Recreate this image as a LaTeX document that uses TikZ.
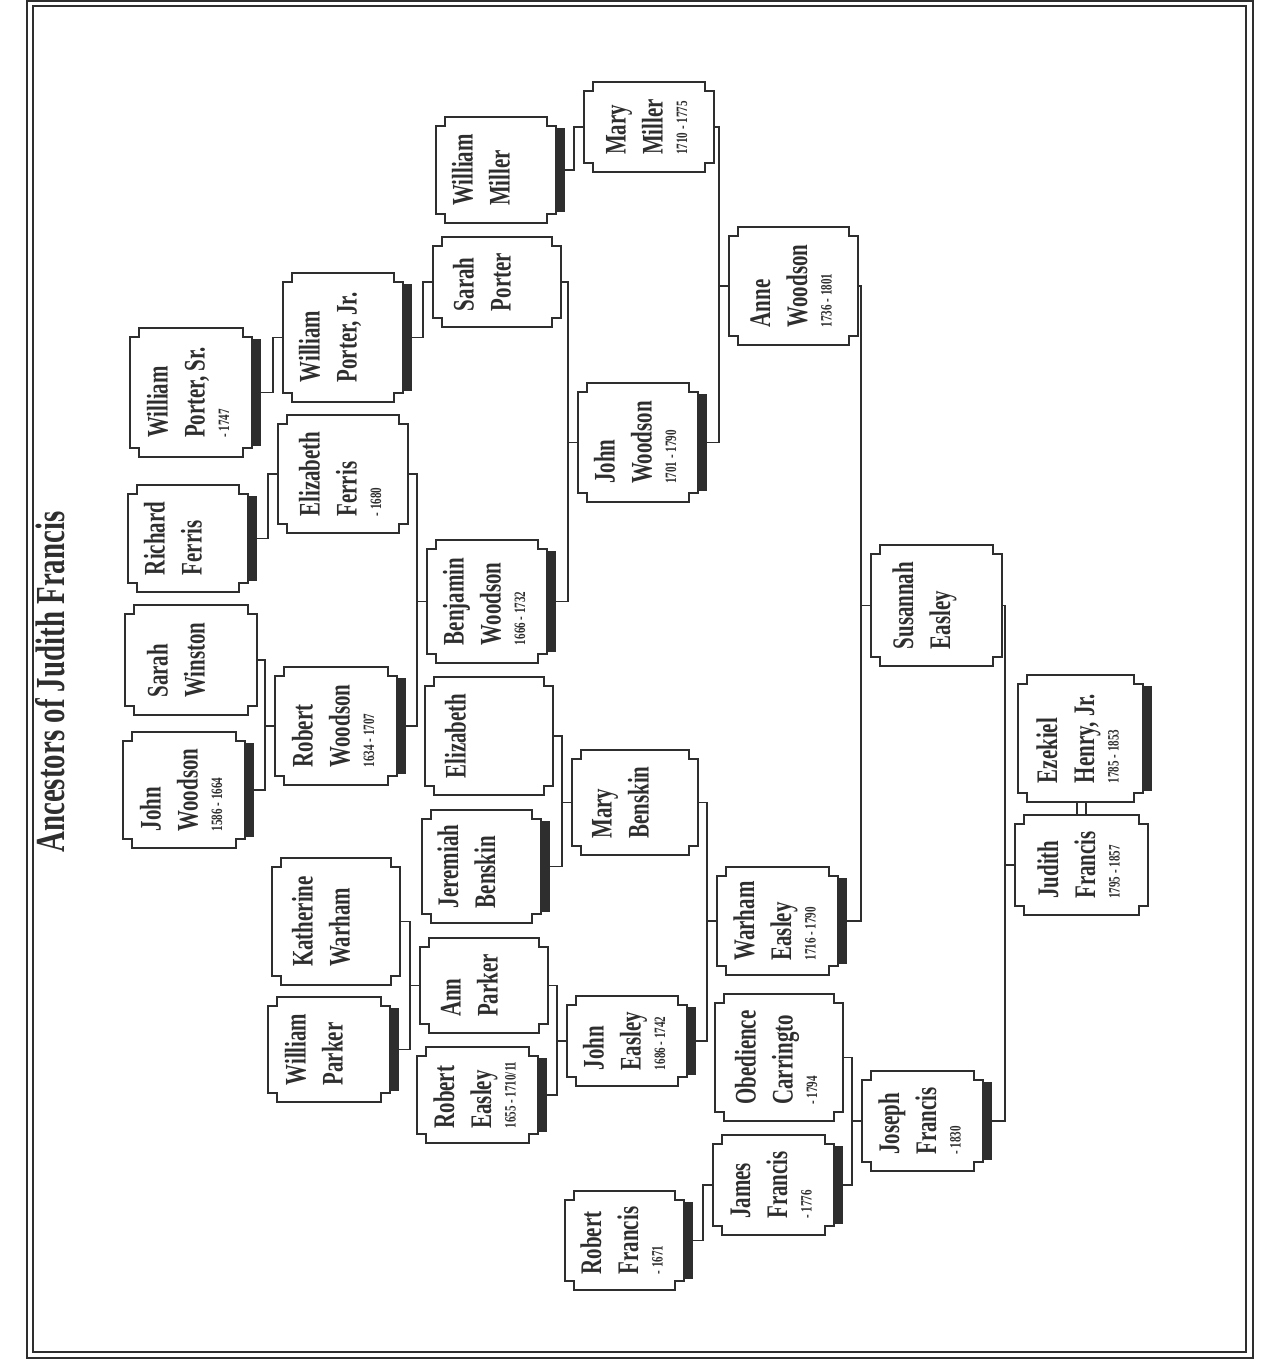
\documentclass[tikz,border=0pt]{standalone}
\usepackage{fontspec}
\usepackage{graphicx}
\setmainfont{Liberation Serif}
\newfontfamily\chartfont[FakeStretch=0.7]{Liberation Serif}
\usetikzlibrary{calc}
\definecolor{ink}{HTML}{2E2E2E}

\newcommand\namefont{\chartfont\bfseries\fontsize{17}{21}\selectfont}
\newcommand\datefont{\chartfont\fontsize{9}{10}\selectfont}
% name, surname, years -- turned to read upwards
\newcommand\who[3]{\rotatebox{90}{\namefont\begin{tabular}{@{}l@{}}#1\\#2\\[-7pt]\datefont #3\end{tabular}}}
\def\nt{0.18cm}

\begin{document}
\begin{tikzpicture}[
  x=0.02cm, y=-0.02cm,
  person/.style={inner sep=0pt, outer sep=0pt, text=ink},
  border/.style={draw=ink, line width=1.2pt},
  outline/.style={draw=ink, line width=1.2pt, line join=miter},
  shadowbar/.style={fill=ink},
  link/.style={draw=ink, line width=0.9pt},
  heading/.style={rotate=90, text=ink, font=\chartfont\bfseries\fontsize{23.5}{28}\selectfont}
]
\useasboundingbox (0,0) rectangle (1274,1362);
\draw[border] (27,1) rectangle (1253,1358);
\draw[border, line width=0.8pt] (33,6) rectangle (1246,1352);

\node[heading] (title) at (50,682) {Ancestors of Judith Francis};

% oldest generations on the left
\node[person, minimum width=2.44cm, minimum height=2.58cm] (wportersr) at (191,392.5) {\who{William}{Porter, Sr.}{- 1747}};
\node[person, minimum width=2.4cm, minimum height=2.14cm] (rferris) at (188,538.5) {\who{Richard}{Ferris}{}};
\node[person, minimum width=2.64cm, minimum height=2.2cm] (swinston) at (191,660) {\who{Sarah}{Winston}{}};
\node[person, minimum width=2.44cm, minimum height=2.32cm] (jwoodsonA) at (184,790) {\who{John}{Woodson}{1586 - 1664}};

\node[person, minimum width=2.4cm, minimum height=2.58cm] (wporterjr) at (343,337.5) {\who{William}{Porter, Jr.}{}};
\node[person, minimum width=2.6cm, minimum height=2.36cm] (eferris) at (343,474) {\who{Elizabeth}{Ferris}{- 1680}};
\node[person, minimum width=2.44cm, minimum height=2.36cm] (rwoodson) at (336,726) {\who{Robert}{Woodson}{1634 - 1707}};
\node[person, minimum width=2.56cm, minimum height=2.54cm] (kwarham) at (336,921.5) {\who{Katherine}{Warham}{}};
\node[person, minimum width=2.44cm, minimum height=2.1cm] (wparker) at (329,1049.5) {\who{William}{Parker}{}};

\node[person, minimum width=2.4cm, minimum height=2.12cm] (wmiller) at (496,170) {\who{William}{Miller}{}};
\node[person, minimum width=2.56cm, minimum height=1.8cm] (sporter) at (497,282) {\who{Sarah}{Porter}{}};
\node[person, minimum width=2.4cm, minimum height=2.46cm] (bwoodson) at (487,601.5) {\who{Benjamin}{Woodson}{1666 - 1732}};
\node[person, minimum width=2.56cm, minimum height=2.36cm] (elizabeth) at (489,736) {\who{Elizabeth}{}{}};
\node[person, minimum width=2.38cm, minimum height=2.26cm] (jbenskin) at (481.5,866.5) {\who{Jeremiah}{Benskin}{}};
\node[person, minimum width=2.56cm, minimum height=1.9cm] (aparker) at (484,985.5) {\who{Ann}{Parker}{}};
\node[person, minimum width=2.42cm, minimum height=1.92cm] (reasley) at (477.5,1095) {\who{Robert}{Easley}{1655 - 1710/11}};

\node[person, minimum width=2.6cm, minimum height=1.8cm] (mmiller) at (649,127) {\who{Mary}{Miller}{1710 - 1775}};
\node[person, minimum width=2.4cm, minimum height=2.38cm] (jwoodsonB) at (638,442.5) {\who{John}{Woodson}{1701 - 1790}};
\node[person, minimum width=2.52cm, minimum height=2.1cm] (mbenskin) at (635,802.5) {\who{Mary}{Benskin}{}};
\node[person, minimum width=2.4cm, minimum height=1.8cm] (jeasley) at (627,1041) {\who{John}{Easley}{1686 - 1742}};
\node[person, minimum width=2.38cm, minimum height=1.98cm] (rfrancis) at (624.5,1240.5) {\who{Robert}{Francis}{- 1671}};

\node[person, minimum width=2.58cm, minimum height=2.36cm] (awoodson) at (793.5,286) {\who{Anne}{Woodson}{1736 - 1801}};
\node[person, minimum width=2.42cm, minimum height=2.16cm] (weasley) at (777.5,921) {\who{Warham}{Easley}{1716 - 1790}};
\node[person, minimum width=2.56cm, minimum height=2.54cm] (ocarrington) at (779,1057.5) {\who{Obedience}{Carringto}{- 1794}};
\node[person, minimum width=2.42cm, minimum height=2.0cm] (jfrancis) at (773.5,1185) {\who{James}{Francis}{- 1776}};

\node[person, minimum width=2.62cm, minimum height=2.42cm] (seasley) at (936.5,605.5) {\who{Susannah}{Easley}{}};
\node[person, minimum width=2.42cm, minimum height=2.0cm] (josfrancis) at (922.5,1121) {\who{Joseph}{Francis}{- 1830}};

\node[person, minimum width=2.5cm, minimum height=2.54cm] (ehenry) at (1080.5,738.5) {\who{Ezekiel}{Henry, Jr.}{1785 - 1853}};
\node[person, minimum width=2.66cm, minimum height=2.0cm] (jufrancis) at (1081.5,865) {\who{Judith}{Francis}{1795 - 1857}};

% parent -> child
\foreach \p/\c in {mmiller/awoodson, jwoodsonB/awoodson, wmiller/mmiller,
    sporter/jwoodsonB, bwoodson/jwoodsonB, wporterjr/sporter, wportersr/wporterjr,
    eferris/bwoodson, rwoodson/bwoodson, rferris/eferris,
    swinston/rwoodson, jwoodsonA/rwoodson,
    awoodson/seasley, weasley/seasley, mbenskin/weasley, jeasley/weasley,
    elizabeth/mbenskin, jbenskin/mbenskin, aparker/jeasley, reasley/jeasley,
    kwarham/aparker, wparker/aparker,
    seasley/jufrancis, josfrancis/jufrancis, ocarrington/josfrancis, jfrancis/josfrancis,
    rfrancis/jfrancis}
  \draw[link] (\p.east) -| ([xshift=-0.2cm]\c.west) -- (\c.west);

% marriage
\draw[link] ([xshift=-0.07cm]ehenry.south) -- ([xshift=-0.07cm]ehenry.south |- jufrancis.north);
\draw[link] ([xshift=0.11cm]ehenry.south) -- ([xshift=0.11cm]ehenry.south |- jufrancis.north);

\foreach \n in {wmiller, wporterjr, wportersr, rferris, jwoodsonA, rwoodson, bwoodson,
    jbenskin, wparker, reasley, jeasley, weasley, jfrancis, rfrancis, josfrancis,
    jwoodsonB, ehenry}
  \fill[shadowbar] ([yshift=-0.22cm]\n.north east) rectangle ([xshift=\nt, yshift=0.22cm]\n.south east);

\foreach \n in {wportersr, rferris, swinston, jwoodsonA, wporterjr, eferris, rwoodson,
    kwarham, wparker, wmiller, sporter, bwoodson, elizabeth, jbenskin, aparker, reasley,
    mmiller, jwoodsonB, mbenskin, jeasley, rfrancis, awoodson, weasley, ocarrington,
    jfrancis, seasley, josfrancis, ehenry, jufrancis}
  \draw[outline] ([yshift=\nt]\n.south west) -- ++(\nt,0pt) -- ++(0pt,-\nt)
    -- ([xshift=-\nt]\n.south east) -- ++(0pt,\nt) -- ++(\nt,0pt)
    -- ([yshift=-\nt]\n.north east) -- ++(-\nt,0pt) -- ++(0pt,\nt)
    -- ([xshift=\nt]\n.north west) -- ++(0pt,-\nt) -- ++(-\nt,0pt) -- cycle;
\end{tikzpicture}
\end{document}
